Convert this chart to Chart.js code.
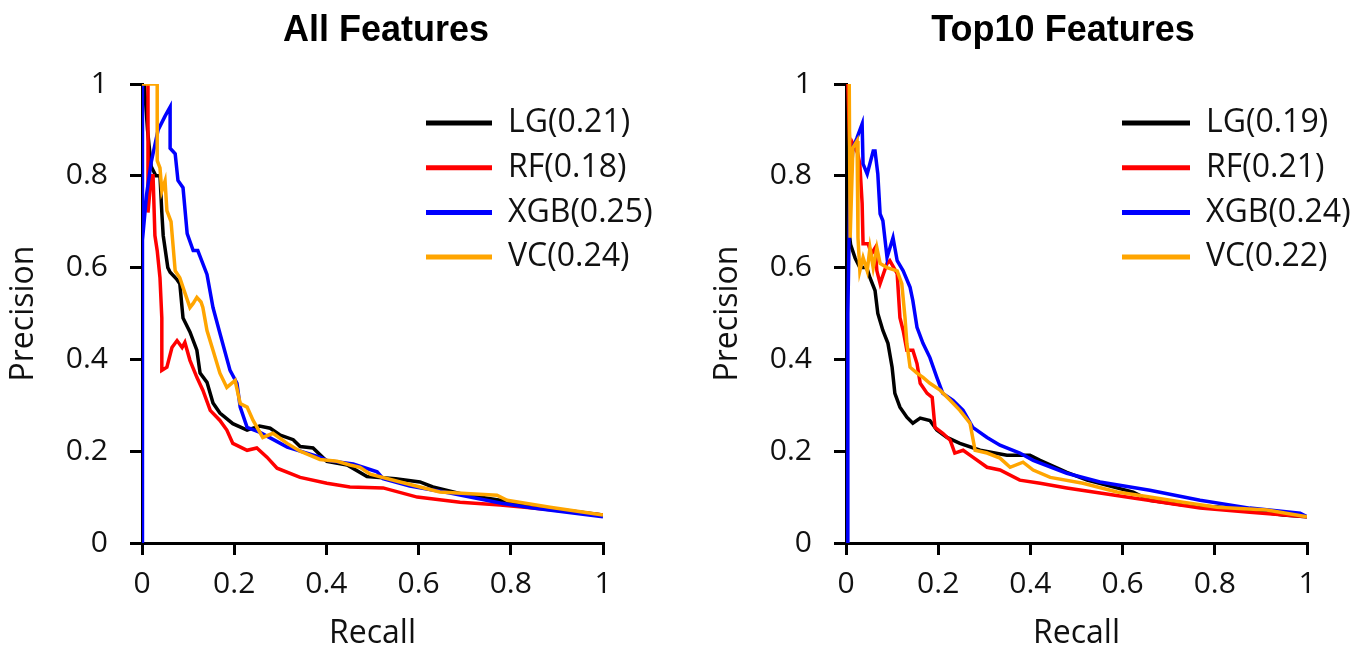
<!DOCTYPE html>
<html><head><meta charset="utf-8">
<script src="https://cdn.jsdelivr.net/npm/chart.js@4.4.0/dist/chart.umd.min.js"></script>
<style>
html,body{margin:0;padding:0;background:#fff;width:1356px;height:650px;overflow:hidden}
canvas{position:absolute;top:0}
#cLeft{left:0}
#cRight{left:678px}
</style></head><body>
<canvas id="cLeft" width="678" height="650"></canvas>
<canvas id="cRight" width="678" height="650"></canvas>
<script>
// ---------------- data ----------------
const panelTitles = ['All Features', 'Top10 Features'];
const seriesNames = ['LG', 'RF', 'XGB', 'VC'];
const aucLeft = ['0.21', '0.18', '0.25', '0.24'];
const aucRight = ['0.19', '0.21', '0.24', '0.22'];
const xTickLabels = ['0', '0.2', '0.4', '0.6', '0.8', '1'];
const yTickLabels = ['0', '0.2', '0.4', '0.6', '0.8', '1'];
const xAxisTitle = 'Recall';
const yAxisTitle = 'Precision';

// All Features: [recall, precision]
const leftLG = [[0,1],[0.005,1],[0.012,0.9],[0.02,0.82],[0.03,0.8],[0.039,0.8],[0.043,0.72],[0.046,0.67],[0.056,0.6],[0.061,0.59],[0.075,0.575],[0.082,0.565],[0.089,0.49],[0.104,0.46],[0.119,0.42],[0.126,0.37],[0.141,0.35],[0.154,0.305],[0.169,0.283],[0.197,0.26],[0.228,0.246],[0.255,0.255],[0.278,0.25],[0.3,0.235],[0.328,0.225],[0.343,0.21],[0.371,0.207],[0.401,0.178],[0.445,0.17],[0.488,0.145],[0.55,0.14],[0.603,0.133],[0.631,0.122],[0.7,0.105],[0.777,0.093],[0.85,0.08],[1,0.061]];
const leftRF = [[0.013,1],[0.013,0.72],[0.02,0.8],[0.024,0.8],[0.028,0.67],[0.033,0.637],[0.039,0.578],[0.043,0.49],[0.043,0.376],[0.054,0.383],[0.065,0.426],[0.076,0.441],[0.087,0.426],[0.093,0.437],[0.104,0.398],[0.119,0.361],[0.132,0.333],[0.148,0.289],[0.169,0.267],[0.184,0.246],[0.197,0.217],[0.228,0.202],[0.249,0.207],[0.271,0.187],[0.293,0.163],[0.343,0.143],[0.401,0.13],[0.451,0.122],[0.523,0.12],[0.597,0.1],[0.69,0.089],[0.777,0.083],[0.848,0.076],[1,0.061]];
const leftXGB = [[0,0],[0,1],[0.002,0.66],[0.01,0.76],[0.02,0.83],[0.035,0.9],[0.05,0.93],[0.061,0.95],[0.061,0.86],[0.072,0.848],[0.078,0.79],[0.089,0.774],[0.098,0.674],[0.111,0.637],[0.121,0.637],[0.141,0.585],[0.154,0.513],[0.169,0.457],[0.191,0.376],[0.206,0.348],[0.213,0.296],[0.228,0.252],[0.256,0.241],[0.315,0.209],[0.386,0.187],[0.401,0.18],[0.458,0.172],[0.51,0.155],[0.523,0.14],[0.581,0.124],[0.668,0.109],[0.777,0.087],[0.848,0.076],[1,0.057]];
const leftVC = [[0,1],[0.033,1],[0.033,0.833],[0.039,0.817],[0.043,0.767],[0.05,0.789],[0.054,0.724],[0.063,0.7],[0.072,0.593],[0.082,0.578],[0.089,0.557],[0.104,0.513],[0.111,0.522],[0.119,0.535],[0.128,0.525],[0.132,0.513],[0.141,0.463],[0.154,0.42],[0.169,0.37],[0.184,0.339],[0.202,0.354],[0.213,0.304],[0.228,0.296],[0.241,0.267],[0.262,0.23],[0.284,0.239],[0.315,0.217],[0.343,0.2],[0.386,0.182],[0.423,0.178],[0.451,0.17],[0.473,0.165],[0.495,0.15],[0.56,0.133],[0.646,0.111],[0.77,0.104],[0.792,0.093],[0.885,0.078],[1,0.061]];

// Top10 Features: [recall, precision]
const rightLG = [[0,1],[0.004,0.7],[0.01,0.65],[0.02,0.62],[0.03,0.6],[0.045,0.6],[0.052,0.578],[0.063,0.55],[0.069,0.5],[0.08,0.463],[0.091,0.435],[0.1,0.383],[0.106,0.326],[0.117,0.296],[0.132,0.274],[0.145,0.261],[0.161,0.272],[0.182,0.267],[0.197,0.246],[0.219,0.23],[0.247,0.217],[0.291,0.202],[0.349,0.191],[0.399,0.191],[0.421,0.18],[0.479,0.154],[0.523,0.137],[0.623,0.111],[0.659,0.093],[0.731,0.083],[0.839,0.076],[0.948,0.061],[1,0.057]];
const rightRF = [[0.004,1],[0.01,0.8],[0.015,0.87],[0.025,0.85],[0.03,0.826],[0.035,0.74],[0.037,0.652],[0.048,0.652],[0.055,0.63],[0.063,0.643],[0.067,0.593],[0.074,0.565],[0.089,0.609],[0.095,0.615],[0.111,0.587],[0.117,0.491],[0.124,0.463],[0.132,0.42],[0.145,0.42],[0.154,0.391],[0.161,0.348],[0.176,0.326],[0.187,0.317],[0.193,0.252],[0.21,0.239],[0.226,0.224],[0.236,0.196],[0.254,0.202],[0.275,0.187],[0.306,0.165],[0.334,0.159],[0.377,0.137],[0.421,0.13],[0.479,0.12],[0.551,0.109],[0.623,0.098],[0.696,0.087],[0.768,0.076],[0.876,0.067],[1,0.057]];
const rightXGB = [[0.004,0],[0.004,0.5],[0.008,0.75],[0.015,0.861],[0.024,0.883],[0.035,0.913],[0.037,0.826],[0.046,0.804],[0.059,0.854],[0.063,0.854],[0.069,0.804],[0.074,0.717],[0.08,0.702],[0.089,0.622],[0.102,0.665],[0.111,0.615],[0.124,0.593],[0.139,0.557],[0.145,0.528],[0.154,0.47],[0.167,0.435],[0.182,0.404],[0.197,0.361],[0.21,0.326],[0.232,0.311],[0.254,0.289],[0.275,0.252],[0.306,0.23],[0.334,0.213],[0.377,0.196],[0.406,0.18],[0.479,0.152],[0.551,0.133],[0.659,0.115],[0.768,0.093],[0.876,0.076],[0.985,0.065],[1,0.057]];
const rightVC = [[0.005,1],[0.007,1],[0.009,0.665],[0.015,0.861],[0.024,0.876],[0.026,0.665],[0.03,0.593],[0.037,0.622],[0.046,0.593],[0.052,0.643],[0.059,0.6],[0.067,0.643],[0.074,0.609],[0.089,0.6],[0.111,0.593],[0.121,0.565],[0.128,0.491],[0.132,0.435],[0.139,0.383],[0.154,0.37],[0.167,0.361],[0.182,0.348],[0.204,0.333],[0.226,0.311],[0.247,0.289],[0.269,0.261],[0.28,0.202],[0.306,0.196],[0.334,0.185],[0.356,0.165],[0.384,0.176],[0.406,0.159],[0.443,0.143],[0.514,0.13],[0.588,0.111],[0.659,0.1],[0.731,0.089],[0.805,0.078],[0.913,0.072],[1,0.057]];

// ---------------- styling ----------------
const seriesColors = ['#000000', '#ff0000', '#0000ff', '#ffa500'];
const drawOrder = [4, 3, 2, 1];
const TXT_FONT = '"Open Sans", "DejaVu Sans", sans-serif';

const panelDecor = {
  id: 'panelDecor',
  afterDraw(chart, args, o) {
    const ctx = chart.ctx;
    ctx.save();
    ctx.fillStyle = '#000';
    ctx.font = 'bold 36px "Liberation Sans", Arial, sans-serif';
    ctx.textAlign = 'center';
    ctx.textBaseline = 'middle';
    ctx.fillText(o.title, o.titleX, o.titleY);
    ctx.font = '32px ' + TXT_FONT;
    ctx.textAlign = 'left';
    chart.data.datasets.forEach((ds, i) => {
      const y = o.legendY + i * o.legendGap;
      ctx.strokeStyle = ds.borderColor;
      ctx.lineWidth = 5;
      ctx.beginPath();
      ctx.moveTo(o.lineX0, y);
      ctx.lineTo(o.lineX1, y);
      ctx.stroke();
      ctx.fillStyle = '#111';
      ctx.fillText(ds.label, o.textX, y);
    });
    ctx.restore();
  }
};

function makeChart(id, seriesList, aucs, title, geo) {
  const datasets = seriesList.map((arr, i) => ({
    label: seriesNames[i] + '(' + aucs[i] + ')',
    data: arr.map(([x, y]) => ({x, y})),
    borderColor: seriesColors[i],
    backgroundColor: seriesColors[i],
    borderWidth: 3.5,
    pointRadius: 0,
    showLine: true,
    tension: 0,
    fill: false,
    order: drawOrder[i]
  }));
  const axisCommon = {
    type: 'linear', min: 0, max: 1,
    grid: {drawOnChartArea: false, drawTicks: true, tickLength: 12, color: '#000', lineWidth: 3},
    border: {display: true, color: '#000', width: 3}
  };
  return new Chart(document.getElementById(id), {
    type: 'scatter',
    data: {datasets},
    plugins: [panelDecor],
    options: {
      responsive: false,
      animation: false,
      layout: {padding: {top: 84, right: geo.padRight, bottom: 0, left: 0}},
      plugins: {
        legend: {display: false},
        tooltip: {enabled: false},
        panelDecor: {title, titleX: geo.titleX, titleY: 31, legendY: 123, legendGap: 44.7,
                     lineX0: geo.lineX0, lineX1: geo.lineX1, textX: geo.textX}
      },
      scales: {
        x: Object.assign({}, axisCommon, {
          position: 'bottom',
          afterFit: s => { s.height = 107; },
          ticks: {stepSize: 0.2, autoSkip: false, maxRotation: 0, padding: 11, color: '#111',
                  font: {family: TXT_FONT, size: 30},
                  callback: v => xTickLabels[Math.round(v * 5)]},
          title: {display: true, text: xAxisTitle, color: '#111', padding: {top: 0, bottom: 0},
                  font: {family: TXT_FONT, size: 32, lineHeight: 1}}
        }),
        y: Object.assign({}, axisCommon, {
          position: 'left',
          afterFit: s => { s.width = geo.yWidth; },
          ticks: {stepSize: 0.2, autoSkip: false, padding: 22, color: '#111',
                  font: {family: TXT_FONT, size: 30},
                  callback: v => yTickLabels[Math.round(v * 5)]},
          title: {display: true, text: yAxisTitle, color: '#111', padding: {top: geo.yTitlePad, bottom: 0},
                  font: {family: TXT_FONT, size: 32, lineHeight: 1}}
        })
      }
    }
  });
}

makeChart('cLeft', [leftLG, leftRF, leftXGB, leftVC], aucLeft, panelTitles[0],
  {padRight: 75, yWidth: 142, yTitlePad: 8, titleX: 386, lineX0: 426, lineX1: 492, textX: 508});
makeChart('cRight', [rightLG, rightRF, rightXGB, rightVC], aucRight, panelTitles[1],
  {padRight: 49, yWidth: 168, yTitlePad: 34, titleX: 385, lineX0: 444, lineX1: 512, textX: 528});
</script>
</body></html>
